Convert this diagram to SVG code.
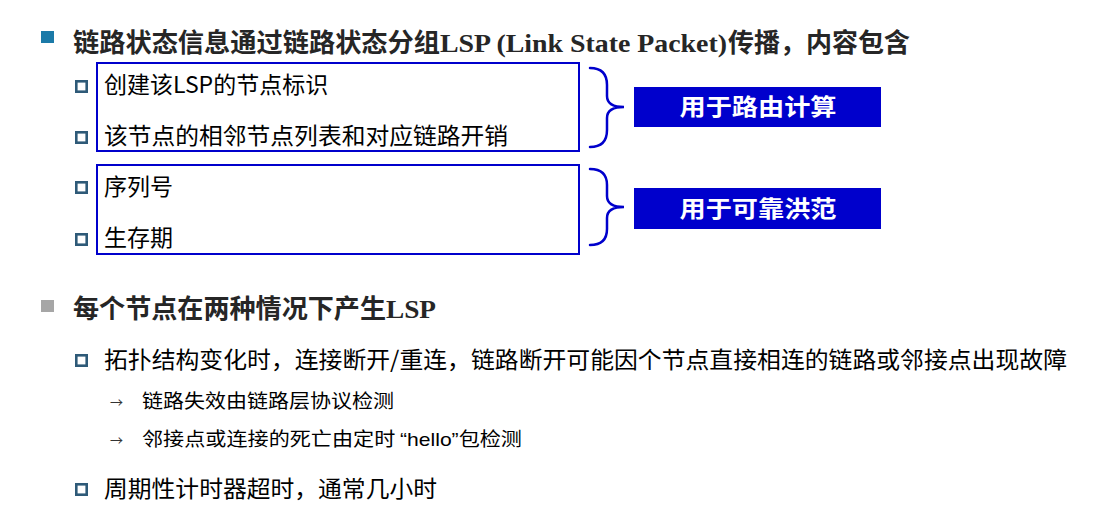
<svg xmlns="http://www.w3.org/2000/svg" width="1108" height="519" viewBox="0 0 1108 519">
<style>
.h{font-family:"Noto Sans CJK SC","Liberation Sans",sans-serif;font-weight:bold;font-size:26px;fill:#262626}
.hl{font-family:"Liberation Serif","Noto Sans CJK SC",serif;font-weight:bold;font-size:26px;fill:#262626}
.t{font-family:"Noto Sans CJK SC","Liberation Sans",sans-serif;font-size:23px;fill:#000}
.s{font-family:"Noto Sans CJK SC","Liberation Sans",sans-serif;font-size:19px;fill:#000}
.lat{font-family:"Liberation Sans","Noto Sans CJK SC",sans-serif}
.ar{font-family:"Noto Sans CJK SC",sans-serif;font-size:13px;fill:#333}
.b{fill:#fff;stroke:#2e5a78;stroke-width:2.6}
.box{fill:none;stroke:#0000cc;stroke-width:2}
.brace{fill:none;stroke:#0000cc;stroke-width:2.5;stroke-linecap:round}
.lab{fill:#0000cc}
.lt{font-family:"Noto Sans CJK SC",serif;font-weight:bold;font-size:23px;fill:#fff;text-anchor:middle}
</style>
<rect width="1108" height="519" fill="#fff"/>
<g id="title1">
<rect x="41" y="31" width="13" height="12" fill="#1b7aa8"/>
<text class="h" x="73" y="52" textLength="367" lengthAdjust="spacingAndGlyphs">链路状态信息通过链路状态分组</text>
<text class="hl" x="440" y="52" textLength="287" lengthAdjust="spacingAndGlyphs">LSP (Link State Packet)</text>
<text class="h" x="728" y="52" textLength="182" lengthAdjust="spacingAndGlyphs">传播，内容包含</text>
</g>
<g id="group1">
<rect class="box" x="97" y="63" width="482" height="88"/>
<rect class="b" x="76.3" y="81.3" width="10.4" height="10.4"/>
<text class="t" x="104" y="93">创建该LSP的节点标识</text>
<rect class="b" x="76.3" y="132.3" width="10.4" height="10.4"/>
<text class="t" x="104" y="144" textLength="404" lengthAdjust="spacingAndGlyphs">该节点的相邻节点列表和对应链路开销</text>
</g>
<g id="group2">
<rect class="box" x="97" y="165" width="482" height="89"/>
<rect class="b" x="76.3" y="182.3" width="10.4" height="10.4"/>
<text class="t" x="104" y="195">序列号</text>
<rect class="b" x="76.3" y="234.3" width="10.4" height="10.4"/>
<text class="t" x="104" y="246">生存期</text>
</g>
<g id="connectors">
<path class="brace" d="M590,68 Q607,68 607,85 L607,96 Q607,107 624,107 Q607,107 607,118 L607,130 Q607,147 590,147"/>
<path class="brace" d="M590,169 Q607,169 607,185 L607,196 Q607,207 624,207 Q607,207 607,218 L607,229 Q607,245 590,245"/>
</g>
<g id="label1">
<rect class="lab" x="634" y="87" width="247" height="40"/>
<text class="lt" x="758" y="115" textLength="157" lengthAdjust="spacingAndGlyphs">用于路由计算</text>
</g>
<g id="label2">
<rect class="lab" x="634" y="188" width="247" height="41"/>
<text class="lt" x="758" y="217" textLength="157" lengthAdjust="spacingAndGlyphs">用于可靠洪范</text>
</g>
<g id="title2">
<rect x="41" y="300" width="13" height="12" fill="#a6a6a6"/>
<text class="h" x="73" y="318" textLength="313" lengthAdjust="spacingAndGlyphs">每个节点在两种情况下产生</text>
<text class="hl" x="386" y="318" textLength="50" lengthAdjust="spacingAndGlyphs">LSP</text>
</g>
<g id="item3">
<rect class="b" x="76.3" y="355.3" width="10.4" height="10.4"/>
<text class="t" x="104" y="368" textLength="963" lengthAdjust="spacingAndGlyphs">拓扑结构变化时，连接断开/重连，链路断开可能因个节点直接相连的链路或邻接点出现故障</text>
<text class="ar" x="110" y="407">→</text>
<text class="s" x="142" y="408" textLength="252" lengthAdjust="spacingAndGlyphs">链路失效由链路层协议检测</text>
<text class="ar" x="110" y="445">→</text>
<text class="s" x="142" y="446" textLength="380" lengthAdjust="spacingAndGlyphs">邻接点或连接的死亡由定时 <tspan class="lat">“hello”</tspan>包检测</text>
</g>
<g id="item4">
<rect class="b" x="76.3" y="484.3" width="10.4" height="10.4"/>
<text class="t" x="104" y="497" textLength="333" lengthAdjust="spacingAndGlyphs">周期性计时器超时，通常几小时</text>
</g>
</svg>
